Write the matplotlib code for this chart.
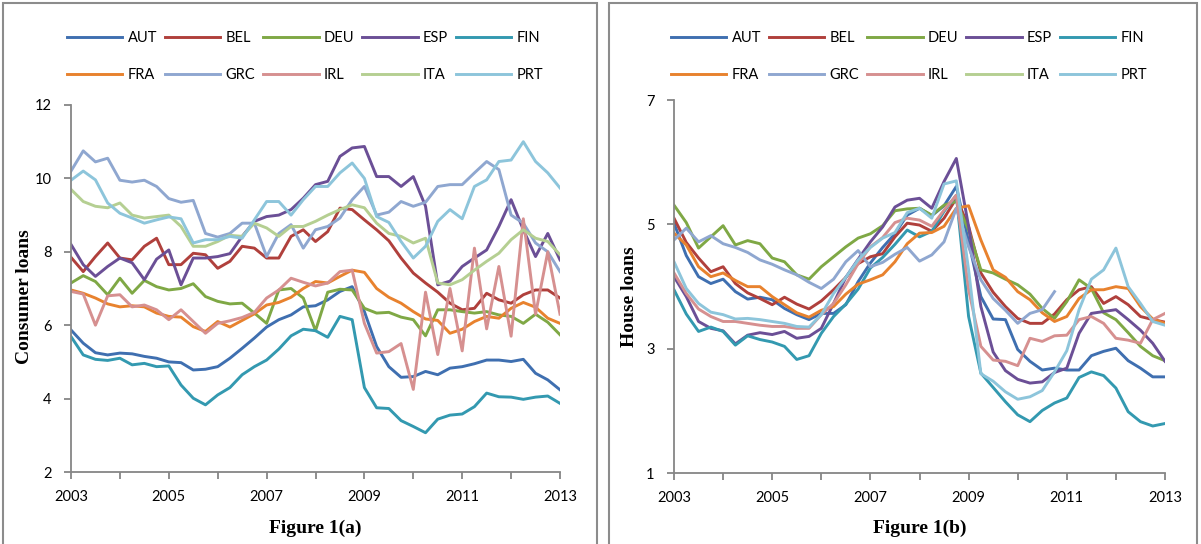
import numpy as np
import matplotlib
matplotlib.use('Agg')
import matplotlib.pyplot as plt
from matplotlib.patches import Rectangle

# quarterly readings, 2003Q1 .. 2013Q1
quarters = 2003 + np.arange(41) / 4

countries = ['AUT', 'BEL', 'DEU', 'ESP', 'FIN', 'FRA', 'GRC', 'IRL', 'ITA', 'PRT']
colors = ['#3f6fb0', '#b0403c', '#7fa845', '#6b4f96', '#3399b0',
          '#e8822e', '#8fa7d0', '#d69090', '#b5cf92', '#8dc5db']

# Figure 1(a): consumer loans
cons_AUT = [5.87, 5.51, 5.25, 5.19, 5.24, 5.22, 5.15, 5.10, 5.00, 4.98, 4.78, 4.80, 4.87, 5.10,
            5.37, 5.65, 5.95, 6.15, 6.28, 6.50, 6.53, 6.69, 6.92, 7.05, 6.37, 5.42, 4.87, 4.58,
            4.60, 4.74, 4.65, 4.83, 4.87, 4.95, 5.05, 5.05, 5.01, 5.07, 4.69, 4.51, 4.24]
cons_BEL = [7.85, 7.46, 7.87, 8.24, 7.83, 7.78, 8.15, 8.37, 7.65, 7.65, 7.96, 7.92, 7.55, 7.74,
            8.15, 8.10, 7.83, 7.83, 8.42, 8.60, 8.28, 8.55, 9.19, 9.15, 8.87, 8.60, 8.30, 7.83,
            7.42, 7.15, 6.90, 6.60, 6.42, 6.46, 6.87, 6.69, 6.60, 6.83, 6.96, 6.96, 6.74]
cons_DEU = [7.15, 7.35, 7.19, 6.83, 7.28, 6.87, 7.22, 7.05, 6.96, 7.00, 7.13, 6.78, 6.65, 6.58,
            6.60, 6.33, 6.05, 6.96, 7.00, 6.74, 5.85, 6.90, 6.98, 6.96, 6.46, 6.33, 6.35, 6.22,
            6.15, 5.71, 6.42, 6.42, 6.37, 6.33, 6.37, 6.28, 6.24, 6.05, 6.30, 6.08, 5.74]
cons_ESP = [8.20, 7.65, 7.33, 7.60, 7.83, 7.70, 7.24, 7.80, 8.05, 7.10, 7.83, 7.83, 7.87, 7.95,
            8.42, 8.83, 8.96, 9.00, 9.15, 9.46, 9.83, 9.92, 10.60, 10.83, 10.87, 10.05, 10.05, 9.78,
            10.05, 9.24, 7.10, 7.20, 7.60, 7.83, 8.05, 8.69, 9.42, 8.60, 7.87, 8.50, 7.78]
cons_FIN = [5.69, 5.19, 5.07, 5.04, 5.10, 4.92, 4.96, 4.87, 4.89, 4.37, 4.01, 3.83, 4.10, 4.30,
            4.65, 4.87, 5.05, 5.35, 5.71, 5.89, 5.85, 5.67, 6.24, 6.15, 4.30, 3.75, 3.73, 3.40,
            3.24, 3.07, 3.44, 3.55, 3.58, 3.78, 4.15, 4.05, 4.04, 3.98, 4.04, 4.07, 3.87]
cons_FRA = [6.96, 6.87, 6.74, 6.58, 6.50, 6.53, 6.50, 6.33, 6.24, 6.22, 5.96, 5.83, 6.10, 5.95,
            6.13, 6.31, 6.55, 6.62, 6.76, 7.00, 7.19, 7.15, 7.33, 7.50, 7.44, 7.00, 6.76, 6.60,
            6.37, 6.17, 6.13, 5.78, 5.89, 6.10, 6.24, 6.19, 6.46, 6.62, 6.49, 6.19, 6.05]
cons_GRC = [10.20, 10.75, 10.45, 10.55, 9.95, 9.90, 9.95, 9.78, 9.45, 9.35, 9.40, 8.50, 8.40, 8.50,
            8.78, 8.78, 7.87, 8.50, 8.74, 8.10, 8.60, 8.69, 8.92, 9.42, 9.78, 9.00, 9.08, 9.37,
            9.24, 9.35, 9.78, 9.83, 9.83, 10.15, 10.46, 10.24, 9.00, 8.78, 8.24, 8.00, 7.46]
cons_IRL = [6.92, 6.85, 6.00, 6.80, 6.83, 6.50, 6.55, 6.42, 6.15, 6.42, 6.10, 5.78, 6.05, 6.12,
            6.21, 6.35, 6.74, 6.96, 7.28, 7.17, 7.07, 7.15, 7.46, 7.50, 6.05, 5.24, 5.28, 5.50,
            4.25, 6.90, 5.20, 7.00, 5.30, 8.10, 5.90, 7.60, 5.70, 8.90, 6.30, 8.00, 6.30]
cons_ITA = [9.70, 9.37, 9.24, 9.20, 9.33, 9.00, 8.92, 8.96, 9.00, 8.69, 8.15, 8.15, 8.28, 8.45,
            8.42, 8.78, 8.65, 8.42, 8.69, 8.69, 8.83, 9.00, 9.15, 9.28, 9.20, 8.78, 8.50, 8.42,
            8.24, 8.37, 7.15, 7.10, 7.24, 7.50, 7.74, 7.96, 8.33, 8.60, 8.37, 8.28, 7.92]
cons_PRT = [9.95, 10.20, 9.96, 9.33, 9.05, 8.92, 8.78, 8.87, 8.95, 8.90, 8.24, 8.33, 8.33, 8.42,
            8.37, 8.87, 9.37, 9.37, 9.00, 9.42, 9.78, 9.78, 10.15, 10.42, 10.00, 8.96, 8.80, 8.28,
            7.83, 8.15, 8.83, 9.15, 8.90, 9.78, 9.96, 10.46, 10.50, 11.00, 10.46, 10.15, 9.74]

# Figure 1(b): house loans
house_AUT = [5.02, 4.50, 4.16, 4.05, 4.12, 3.92, 3.80, 3.83, 3.79, 3.65, 3.55, 3.47, 3.57, 3.57,
             3.71, 4.08, 4.38, 4.63, 4.85, 5.15, 5.26, 5.14, 5.30, 5.61, 4.72, 3.84, 3.48, 3.47,
             2.99, 2.80, 2.66, 2.69, 2.66, 2.66, 2.89, 2.96, 3.01, 2.81, 2.69, 2.55, 2.55]
house_BEL = [5.10, 4.71, 4.46, 4.24, 4.32, 4.05, 3.90, 3.81, 3.71, 3.83, 3.72, 3.64, 3.77, 3.95,
             4.15, 4.37, 4.48, 4.53, 4.80, 5.02, 4.99, 4.89, 5.10, 5.42, 4.97, 4.22, 3.91, 3.68,
             3.49, 3.41, 3.41, 3.56, 3.79, 3.95, 4.00, 3.73, 3.84, 3.71, 3.52, 3.47, 3.43]
house_DEU = [5.31, 5.03, 4.62, 4.80, 4.98, 4.67, 4.74, 4.69, 4.46, 4.40, 4.19, 4.12, 4.32, 4.48,
             4.64, 4.78, 4.85, 4.98, 5.22, 5.25, 5.26, 5.15, 5.31, 5.37, 4.91, 4.27, 4.22, 4.12,
             4.03, 3.88, 3.65, 3.49, 3.76, 4.11, 3.97, 3.58, 3.47, 3.26, 3.04, 2.89, 2.81]
house_ESP = [4.16, 3.84, 3.44, 3.33, 3.29, 3.08, 3.22, 3.26, 3.23, 3.28, 3.17, 3.20, 3.33, 3.73,
             4.15, 4.44, 4.72, 4.96, 5.28, 5.39, 5.42, 5.26, 5.69, 6.06, 4.97, 3.68, 2.95, 2.65,
             2.51, 2.45, 2.47, 2.62, 2.69, 3.25, 3.57, 3.60, 3.63, 3.47, 3.30, 3.09, 2.80]
house_FIN = [3.95, 3.56, 3.28, 3.35, 3.28, 3.06, 3.21, 3.15, 3.11, 3.04, 2.83, 2.89, 3.25, 3.52,
             3.72, 3.96, 4.30, 4.47, 4.68, 4.91, 4.80, 4.89, 5.21, 5.47, 3.52, 2.61, 2.38, 2.15,
             1.94, 1.83, 2.01, 2.13, 2.21, 2.54, 2.63, 2.57, 2.37, 1.99, 1.83, 1.76, 1.80]
house_FRA = [4.86, 4.67, 4.32, 4.16, 4.22, 4.10, 4.00, 4.00, 3.84, 3.71, 3.58, 3.51, 3.62, 3.68,
             3.88, 4.04, 4.11, 4.19, 4.40, 4.69, 4.86, 4.87, 4.97, 5.26, 5.30, 4.75, 4.27, 4.15,
             3.92, 3.79, 3.58, 3.44, 3.52, 3.81, 3.95, 3.95, 4.00, 3.97, 3.68, 3.48, 3.41]
house_GRC = [4.75, 4.94, 4.72, 4.82, 4.69, 4.63, 4.55, 4.43, 4.36, 4.27, 4.19, 4.07, 3.97, 4.12,
             4.40, 4.58, 4.32, 4.39, 4.52, 4.63, 4.41, 4.51, 4.72, 5.26, 4.64, 4.11, 3.81, 3.62,
             3.41, 3.57, 3.63, 3.92, np.nan, np.nan, np.nan, np.nan, np.nan, np.nan, np.nan,
             np.nan, np.nan]
house_IRL = [4.22, 3.89, 3.64, 3.52, 3.44, 3.44, 3.41, 3.38, 3.36, 3.36, 3.33, 3.33, 3.55, 3.73,
             4.03, 4.37, 4.64, 4.79, 5.03, 5.10, 5.07, 4.97, 5.23, 5.47, 3.95, 3.04, 2.82, 2.80,
             2.73, 3.17, 3.12, 3.21, 3.22, 3.47, 3.52, 3.41, 3.17, 3.14, 3.09, 3.47, 3.57]
house_ITA = [np.nan] * 41  # no house loan series plotted for ITA
house_PRT = [4.40, 3.97, 3.73, 3.59, 3.55, 3.48, 3.49, 3.47, 3.44, 3.41, 3.36, 3.35, 3.55, 3.89,
             4.15, 4.43, 4.63, 4.78, 4.87, 5.19, 5.26, 5.10, 5.65, 5.70, 4.27, 2.60, 2.48, 2.31,
             2.19, 2.23, 2.33, 2.63, 2.97, 3.63, 4.12, 4.27, 4.62, 4.00, 3.73, 3.44, 3.38]

consumer = [cons_AUT, cons_BEL, cons_DEU, cons_ESP, cons_FIN,
            cons_FRA, cons_GRC, cons_IRL, cons_ITA, cons_PRT]
house = [house_AUT, house_BEL, house_DEU, house_ESP, house_FIN,
         house_FRA, house_GRC, house_IRL, house_ITA, house_PRT]

sans = ['Lato', 'DejaVu Sans']
serif = ['Liberation Serif', 'DejaVu Serif']
axis_grey = '#868686'

fig = plt.figure(figsize=(12.01, 5.44), dpi=100)

# panel frames
for x0, x1 in [(3, 597), (609, 1197)]:
    fig.add_artist(Rectangle((x0 / 1201, -0.1), (x1 - x0) / 1201, 1.1 - 3 / 544,
                             transform=fig.transFigure, fill=False,
                             edgecolor='#8c8c8c', linewidth=1.5))


def draw_panel(rect, series, ylim, yticks, ylabel, ylabel_x, title, legend_x):
    ax = fig.add_axes(rect)
    handles = []
    for name, vals, col in zip(countries, series, colors):
        line, = ax.plot(quarters, vals, color=col, linewidth=2.1, label=name,
                        solid_joinstyle='round')
        handles.append(line)
    ax.set_xlim(2003, 2013)
    ax.set_ylim(*ylim)
    ax.set_yticks(yticks)
    ax.set_xticks(range(2003, 2014))
    ax.set_xticklabels([str(y) if y % 2 == 1 else '' for y in range(2003, 2014)])
    for s in ['top', 'right']:
        ax.spines[s].set_visible(False)
    for s in ['left', 'bottom']:
        ax.spines[s].set_color(axis_grey)
        ax.spines[s].set_linewidth(1.3)
    ax.tick_params(direction='out', length=5, width=1.3, color=axis_grey, labelsize=10.5)
    ax.tick_params(axis='x', pad=8)
    ax.tick_params(axis='y', pad=9)
    for lab in ax.get_xticklabels() + ax.get_yticklabels():
        lab.set_family(sans)

    # legend: two rows of five, same order as the reference
    order = [0, 5, 1, 6, 2, 7, 3, 8, 4, 9]
    fig.legend([handles[i] for i in order], [countries[i] for i in order], ncol=5,
               loc='center left', bbox_to_anchor=(legend_x / 1201, 1 - 56.7 / 544),
               frameon=False, handlelength=3.8, handletextpad=0.35, columnspacing=0.55,
               labelspacing=1.55, borderpad=0, borderaxespad=0,
               prop={'family': sans, 'size': 10.5})

    fig.text(ylabel_x / 1201, 1 - 297 / 544, ylabel, rotation=90, ha='center', va='center',
             family=serif, weight='bold', fontsize=14)
    cx = rect[0] + rect[2] / 2
    fig.text(cx, 1 - 528 / 544, title, ha='center', va='center',
             family=serif, weight='bold', fontsize=14)
    return ax


draw_panel([71 / 1201, 1 - 472 / 544, 489 / 1201, 367 / 544], consumer, (2, 12),
           [2, 4, 6, 8, 10, 12], 'Consumer loans', 25, 'Figure 1(a)', 67)
draw_panel([674 / 1201, 1 - 473.3 / 544, 491 / 1201, 373.3 / 544], house, (1, 7),
           [1, 3, 5, 7], 'House loans', 629, 'Figure 1(b)', 671)

fig.savefig('out.png', dpi=100)
